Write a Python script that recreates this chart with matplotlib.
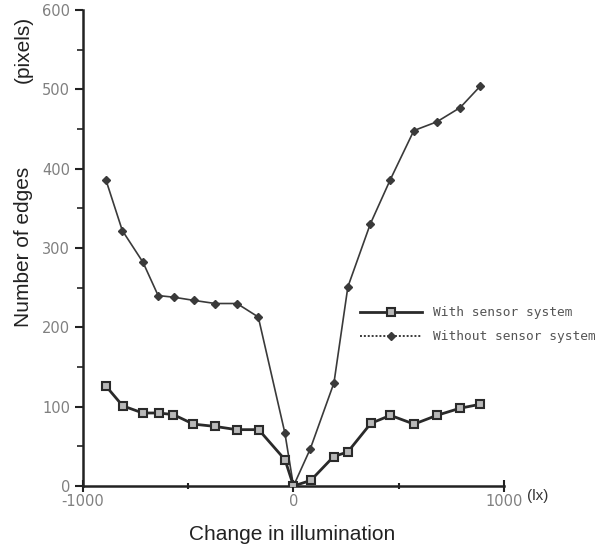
import matplotlib
matplotlib.use("Agg")
import matplotlib.pyplot as plt
from matplotlib.lines import Line2D
from matplotlib.ticker import MultipleLocator, FixedLocator

x_with = [-890, -810, -715, -640, -570, -475, -370, -270, -165, -40, 0, 82, 190, 258, 367, 460, 572, 680, 790, 886]
y_with = [126, 101, 92, 92, 90, 78, 75, 71, 71, 33, 0, 7, 37, 43, 79, 89, 78, 89, 98, 103]

x_without = [-890, -812, -714, -642, -569, -474, -371, -268, -167, -41, 0, 80, 192, 258, 364, 459, 571, 680, 791, 886]
y_without = [386, 322, 282, 240, 238, 234, 230, 230, 213, 67, 0, 47, 130, 251, 330, 386, 448, 459, 477, 504]

legend_labels = ["With sensor system", "Without sensor system"]

fig = plt.figure(figsize=(6.07, 5.45), dpi=100)
ax = fig.add_axes([0.1362, 0.1083, 0.6946, 0.8734])

line_col = "#3a3a3a"
ax.plot(x_without, y_without, color=line_col, lw=1.2, marker="D", ms=3.8,
        mfc=line_col, mec=line_col, zorder=2)
ax.plot(x_with, y_with, color="#2a2a2a", lw=2.0, marker="s", ms=5.5,
        mfc="#b8b8b8", mec="#2a2a2a", mew=1.5, zorder=3)

ax.set_xlim(-1000, 1000)
ax.set_ylim(0, 600)
for s in ["top", "right"]:
    ax.spines[s].set_visible(False)
for s in ["left", "bottom"]:
    ax.spines[s].set_linewidth(1.8)
    ax.spines[s].set_color("#222222")

ax.yaxis.set_major_locator(MultipleLocator(100))
ax.yaxis.set_minor_locator(MultipleLocator(50))
ax.xaxis.set_major_locator(FixedLocator([-1000, 0, 1000]))
ax.xaxis.set_minor_locator(FixedLocator([-500, 500]))
ax.tick_params(axis="y", which="major", direction="out", length=6, width=1.5,
               colors="#222222", labelcolor="#808080", labelsize=10.5, pad=3)
ax.tick_params(axis="y", which="minor", direction="out", length=4, width=1.2, colors="#222222")
ax.tick_params(axis="x", which="major", direction="inout", length=8, width=1.5,
               colors="#222222", labelcolor="#808080", labelsize=10.5, pad=2)
ax.tick_params(axis="x", which="minor", direction="inout", length=5, width=1.5, colors="#222222")
ax.set_xticklabels(["-1000", "0", "1000"])

label_font = "Liberation Sans"
fig.text(0.038, 1 - 247 / 545, "Number of edges", rotation=90, fontsize=15,
         color="#222222", ha="center", va="center", family=label_font)
fig.text(0.038, 1 - 49 / 545, "(pixels)", rotation=90, fontsize=15, color="#222222",
         ha="center", va="center", family=label_font)
fig.text(292 / 607, 1 - 534 / 545, "Change in illumination", fontsize=15,
         color="#222222", ha="center", va="center", family=label_font)
fig.text(538 / 607, 1 - 496 / 545, "(lx)", fontsize=11, color="#333333",
         ha="center", va="center", family=label_font)

handles = [
    Line2D([], [], color="#2a2a2a", lw=2.0, marker="s", ms=5.5, mfc="#b8b8b8", mec="#2a2a2a", mew=1.5),
    Line2D([], [], color=line_col, lw=1.4, ls=(0, (1, 1)), marker="D", ms=3.8, mfc=line_col, mec=line_col),
]
leg = ax.legend(handles, legend_labels, loc="upper left", bbox_to_anchor=(0.658, 0.378),
                frameon=False, prop={"family": "DejaVu Sans Mono", "size": 9.3},
                handlelength=4.8, handletextpad=0.85, labelspacing=0.85,
                borderaxespad=0, borderpad=0)
for t in leg.get_texts():
    t.set_color("#555555")

fig.savefig("out.png", dpi=100)
